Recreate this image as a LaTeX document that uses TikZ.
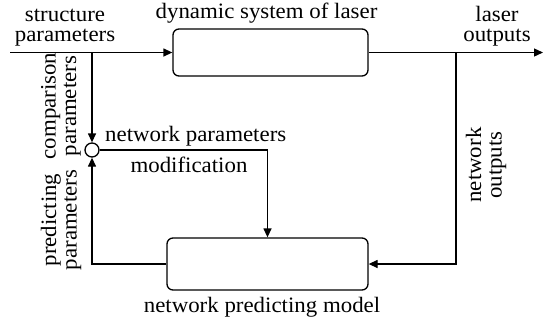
\documentclass[tikz,border=0pt]{standalone}
\usepackage{fontspec}
\setmainfont[FakeStretch=1.04]{Liberation Serif}
\usetikzlibrary{arrows.meta}
\begin{document}
\begin{tikzpicture}[x=1pt,y=1pt,
  every node/.style={inner sep=0pt, font=\fontsize{22}{20.5}\selectfont},
  blk/.style={draw, rounded corners=6pt, line width=1.3pt},
  conn/.style={line width=1.3pt, -{Triangle[length=9pt,width=8pt]}},
  lbl/.style={align=center}]
\useasboundingbox (0,0) rectangle (556,-322);
\node[blk, minimum width=195pt, minimum height=47pt] (sys) at (270.5,-52.5) {};
\node[blk, minimum width=201pt, minimum height=52pt] (npm) at (267.5,-264) {};
\node[draw, circle, line width=1.3pt, minimum size=14pt] (cmp) at (92,-150) {};
\coordinate (in) at (10,-52.5);
\coordinate (out) at (543,-52.5);
\coordinate (b1) at (92,-52.5);
\coordinate (b2) at (456,-52.5);
\draw[conn] (in) -- (sys.west);
\draw[conn] (sys.east) -- (out);
\draw[conn] (b1) -- (cmp.north);
\draw[conn] (b2) |- (npm.east);
\draw[conn] (cmp.east) -| (npm.north);
\draw[conn] (npm.west) -| (cmp.south);
\node[lbl] (t1) at (65,-27.5) {structure\\parameters};
\node[anchor=base] (t2) at (266.5,-18.5) {dynamic system of laser};
\node[lbl] (t3) at (497,-26) {laser\\outputs};
\node[anchor=base west] (t4) at (105,-141.5) {network parameters};
\node[anchor=base] (t5) at (189,-172.5) {modification};
\node[anchor=base] (t6) at (262,-312.5) {network predicting model};
\node[lbl, rotate=90] (t7) at (61,-106) {comparison\\parameters};
\node[lbl, rotate=90] (t8) at (61,-220) {predicting\\parameters};
\node[lbl, rotate=90] (t9) at (486,-165) {network\\outputs};
\end{tikzpicture}
\end{document}
